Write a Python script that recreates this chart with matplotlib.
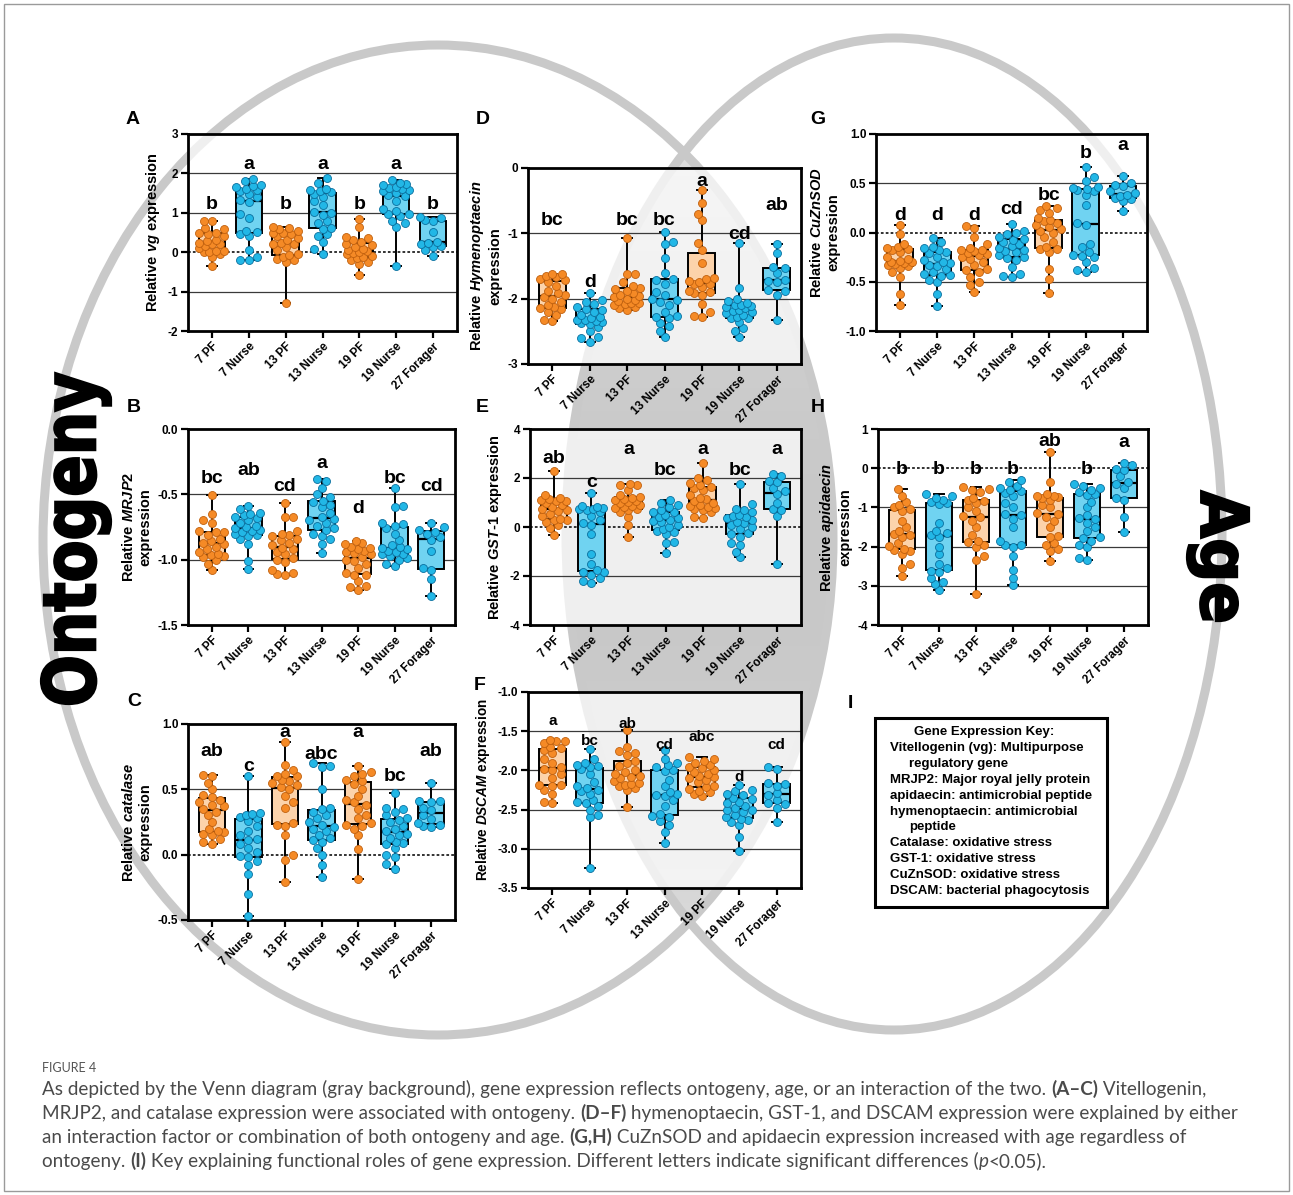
import numpy as np
import matplotlib.pyplot as plt
from matplotlib.patches import Ellipse, Rectangle, PathPatch
from matplotlib.textpath import TextPath
from matplotlib.font_manager import FontProperties
from matplotlib.transforms import Affine2D

plt.rcParams['font.family'] = ['Liberation Sans', 'DejaVu Sans']
plt.rcParams['font.weight'] = 'bold'
plt.rcParams['axes.unicode_minus'] = False
plt.rcParams['mathtext.fontset'] = 'custom'
plt.rcParams['mathtext.it'] = 'Liberation Sans:bold:italic'
plt.rcParams['mathtext.rm'] = 'Liberation Sans:bold'
plt.rcParams['mathtext.bf'] = 'Liberation Sans:bold'

W, H = 1293, 1195

groups = ['7 PF', '7 Nurse', '13 PF', '13 Nurse', '19 PF', '19 Nurse', '27 Forager']
is_pf = [True, False, True, False, True, False, False]

# relative expression values, one list per group
vg = [
    [-0.36, -0.12, -0.05, 0.0, 0.01, 0.02, 0.04, 0.1, 0.15, 0.2, 0.22, 0.24, 0.28, 0.32, 0.4, 0.46, 0.5, 0.5, 0.6, 0.62, 0.78, 0.80],
    [-0.2, -0.19, -0.12, 0.05, 0.4, 0.47, 0.52, 0.55, 0.88, 0.98, 1.28, 1.32, 1.4, 1.48, 1.55, 1.58, 1.6, 1.65, 1.68, 1.7, 1.8, 1.86],
    [-1.28, -0.25, -0.2, -0.18, -0.12, -0.08, -0.05, 0.05, 0.12, 0.2, 0.22, 0.24, 0.3, 0.35, 0.4, 0.45, 0.48, 0.5, 0.55, 0.58, 0.62, 0.65],
    [-0.04, 0.08, 0.25, 0.42, 0.45, 0.6, 0.62, 0.75, 0.8, 0.95, 1.0, 1.02, 1.2, 1.3, 1.4, 1.48, 1.52, 1.55, 1.58, 1.6, 1.75, 1.88],
    [-0.58, -0.3, -0.25, -0.2, -0.15, -0.12, -0.1, -0.05, -0.02, 0.0, 0.03, 0.05, 0.08, 0.12, 0.18, 0.22, 0.25, 0.3, 0.35, 0.38, 0.65, 0.85],
    [-0.34, 0.65, 0.75, 0.8, 0.92, 0.96, 0.98, 1.05, 1.1, 1.3, 1.42, 1.44, 1.5, 1.55, 1.58, 1.6, 1.62, 1.65, 1.7, 1.72, 1.75, 1.82],
    [-0.09, 0.05, 0.13, 0.15, 0.2, 0.23, 0.27, 0.52, 0.78, 0.82, 0.86, 0.89],
]
mrjp2 = [
    [-1.08, -1.03, -1.0, -0.98, -0.97, -0.965, -0.96, -0.94, -0.92, -0.9, -0.88, -0.87, -0.86, -0.84, -0.81, -0.79, -0.79, -0.78, -0.72, -0.7, -0.65, -0.505],
    [-1.07, -1.01, -0.88, -0.84, -0.82, -0.81, -0.805, -0.79, -0.78, -0.77, -0.76, -0.75, -0.74, -0.72, -0.7, -0.68, -0.675, -0.66, -0.65, -0.64, -0.61, -0.59],
    [-1.12, -1.11, -1.1, -1.08, -1.02, -1.0, -0.99, -0.96, -0.94, -0.92, -0.91, -0.89, -0.87, -0.85, -0.84, -0.82, -0.815, -0.8, -0.78, -0.67, -0.67, -0.57],
    [-0.95, -0.88, -0.84, -0.82, -0.8, -0.775, -0.76, -0.74, -0.72, -0.7, -0.69, -0.67, -0.64, -0.6, -0.58, -0.56, -0.55, -0.52, -0.5, -0.45, -0.4, -0.38],
    [-1.23, -1.21, -1.2, -1.16, -1.12, -1.115, -1.1, -1.06, -1.03, -1.01, -1.0, -0.98, -0.96, -0.95, -0.94, -0.93, -0.92, -0.91, -0.9, -0.88, -0.87, -0.86],
    [-1.05, -1.03, -1.0, -0.99, -0.97, -0.96, -0.955, -0.94, -0.93, -0.92, -0.91, -0.905, -0.89, -0.85, -0.8, -0.76, -0.745, -0.73, -0.72, -0.6, -0.59, -0.45],
    [-1.28, -1.15, -1.08, -1.065, -0.93, -0.85, -0.83, -0.8, -0.785, -0.77, -0.75, -0.72],
]
catalase = [
    [0.08, 0.1, 0.12, 0.15, 0.16, 0.17, 0.18, 0.2, 0.25, 0.3, 0.33, 0.35, 0.37, 0.38, 0.4, 0.42, 0.44, 0.46, 0.5, 0.55, 0.6, 0.61],
    [-0.47, -0.3, -0.15, -0.08, -0.05, -0.02, -0.01, 0.02, 0.05, 0.08, 0.11, 0.12, 0.15, 0.18, 0.22, 0.26, 0.28, 0.29, 0.3, 0.31, 0.32, 0.6],
    [-0.21, -0.04, 0.0, 0.15, 0.22, 0.23, 0.24, 0.36, 0.4, 0.45, 0.5, 0.52, 0.53, 0.55, 0.56, 0.57, 0.6, 0.6, 0.62, 0.65, 0.69, 0.86],
    [-0.17, -0.08, 0.0, 0.05, 0.1, 0.11, 0.13, 0.15, 0.18, 0.2, 0.21, 0.23, 0.25, 0.28, 0.3, 0.33, 0.35, 0.36, 0.5, 0.67, 0.68, 0.70],
    [-0.19, 0.04, 0.15, 0.2, 0.22, 0.23, 0.24, 0.28, 0.3, 0.35, 0.38, 0.4, 0.42, 0.45, 0.5, 0.54, 0.56, 0.57, 0.6, 0.62, 0.63, 0.68],
    [-0.11, -0.07, -0.02, 0.0, 0.05, 0.08, 0.09, 0.1, 0.13, 0.15, 0.16, 0.18, 0.2, 0.22, 0.25, 0.265, 0.28, 0.3, 0.33, 0.35, 0.36, 0.47],
    [0.21, 0.22, 0.23, 0.24, 0.27, 0.3, 0.34, 0.36, 0.4, 0.41, 0.41, 0.55],
]
hymenoptaecin = [
    [-2.34, -2.32, -2.25, -2.2, -2.16, -2.14, -2.13, -2.1, -2.05, -2.0, -1.97, -1.95, -1.92, -1.88, -1.8, -1.74, -1.72, -1.7, -1.67, -1.65, -1.63, -1.62],
    [-2.66, -2.6, -2.58, -2.5, -2.44, -2.385, -2.375, -2.36, -2.34, -2.33, -2.32, -2.3, -2.28, -2.25, -2.2, -2.17, -2.16, -2.12, -2.08, -2.05, -2.02, -1.91],
    [-2.17, -2.15, -2.13, -2.1, -2.08, -2.07, -2.065, -2.04, -2.02, -2.0, -1.98, -1.96, -1.94, -1.92, -1.88, -1.85, -1.83, -1.8, -1.75, -1.62, -1.62, -1.07],
    [-2.59, -2.5, -2.42, -2.38, -2.3, -2.28, -2.26, -2.2, -2.1, -2.05, -2.02, -2.0, -1.95, -1.9, -1.78, -1.72, -1.7, -1.6, -1.38, -1.16, -1.14, -0.98],
    [-2.28, -2.27, -2.2, -2.08, -1.95, -1.92, -1.9, -1.88, -1.82, -1.78, -1.77, -1.75, -1.73, -1.7, -1.68, -1.45, -1.25, -1.15, -0.8, -0.7, -0.53, -0.34],
    [-2.59, -2.5, -2.45, -2.35, -2.3, -2.29, -2.285, -2.25, -2.22, -2.2, -2.19, -2.17, -2.15, -2.13, -2.11, -2.1, -2.09, -2.06, -2.04, -2.0, -1.84, -1.15],
    [-2.33, -1.94, -1.88, -1.865, -1.75, -1.73, -1.71, -1.6, -1.53, -1.51, -1.3, -1.17],
]
gst1 = [
    [-0.33, -0.05, 0.1, 0.2, 0.28, 0.3, 0.33, 0.45, 0.55, 0.65, 0.7, 0.74, 0.8, 0.9, 1.0, 1.05, 1.08, 1.1, 1.15, 1.2, 1.3, 2.29],
    [-2.27, -2.2, -2.1, -1.95, -1.85, -1.82, -1.75, -1.5, -1.1, -0.3, 0.1, 0.18, 0.3, 0.45, 0.6, 0.68, 0.72, 0.75, 0.78, 0.8, 0.85, 1.4],
    [-0.4, 0.1, 0.4, 0.6, 0.7, 0.74, 0.76, 0.8, 0.85, 0.9, 0.97, 1.01, 1.05, 1.1, 1.15, 1.2, 1.24, 1.3, 1.5, 1.7, 1.72, 1.74],
    [-1.08, -0.65, -0.6, -0.3, -0.2, -0.15, -0.1, 0.0, 0.1, 0.2, 0.25, 0.29, 0.35, 0.4, 0.5, 0.6, 0.62, 0.7, 0.8, 0.9, 1.0, 1.09],
    [0.38, 0.42, 0.6, 0.7, 0.75, 0.78, 0.8, 0.85, 0.9, 1.0, 1.05, 1.13, 1.2, 1.3, 1.5, 1.6, 1.65, 1.7, 1.8, 1.9, 2.0, 2.6],
    [-1.23, -1.0, -0.75, -0.65, -0.4, -0.28, -0.25, -0.1, 0.0, 0.1, 0.15, 0.21, 0.3, 0.35, 0.4, 0.44, 0.48, 0.6, 0.7, 0.75, 0.92, 1.74],
    [-1.53, 0.45, 0.7, 0.73, 1.0, 1.35, 1.45, 1.6, 1.84, 1.88, 2.1, 2.18],
]
dscam = [
    [-2.42, -2.4, -2.3, -2.25, -2.2, -2.19, -2.18, -2.1, -2.05, -2.0, -1.98, -1.96, -1.9, -1.85, -1.78, -1.74, -1.72, -1.7, -1.65, -1.63, -1.62, -1.61],
    [-3.24, -2.6, -2.57, -2.5, -2.45, -2.415, -2.4, -2.38, -2.3, -2.26, -2.25, -2.23, -2.2, -2.15, -2.05, -1.98, -1.96, -1.95, -1.93, -1.9, -1.85, -1.73],
    [-2.47, -2.25, -2.22, -2.2, -2.18, -2.17, -2.165, -2.14, -2.1, -2.08, -2.07, -2.05, -2.02, -2.0, -1.95, -1.9, -1.88, -1.8, -1.78, -1.75, -1.7, -1.49],
    [-2.93, -2.78, -2.7, -2.65, -2.6, -2.58, -2.55, -2.45, -2.38, -2.33, -2.32, -2.3, -2.27, -2.2, -2.12, -2.01, -1.99, -1.96, -1.93, -1.9, -1.85, -1.74],
    [-2.33, -2.3, -2.28, -2.26, -2.24, -2.215, -2.2, -2.15, -2.12, -2.1, -2.09, -2.07, -2.05, -2.02, -2.0, -1.97, -1.955, -1.93, -1.9, -1.88, -1.85, -1.83],
    [-3.03, -2.85, -2.7, -2.66, -2.63, -2.615, -2.6, -2.57, -2.53, -2.51, -2.5, -2.48, -2.45, -2.42, -2.4, -2.37, -2.35, -2.32, -2.3, -2.26, -2.25, -2.18],
    [-2.66, -2.48, -2.43, -2.415, -2.38, -2.31, -2.29, -2.2, -2.175, -2.16, -1.98, -1.96],
]
cuznsod = [
    [-0.74, -0.62, -0.45, -0.4, -0.36, -0.345, -0.335, -0.32, -0.31, -0.3, -0.295, -0.285, -0.27, -0.25, -0.2, -0.175, -0.165, -0.16, -0.15, -0.12, -0.02, 0.08],
    [-0.75, -0.62, -0.5, -0.48, -0.44, -0.435, -0.425, -0.4, -0.37, -0.34, -0.33, -0.31, -0.3, -0.28, -0.25, -0.21, -0.2, -0.18, -0.16, -0.15, -0.1, -0.06],
    [-0.6, -0.53, -0.5, -0.45, -0.4, -0.385, -0.37, -0.33, -0.3, -0.27, -0.25, -0.23, -0.22, -0.21, -0.19, -0.182, -0.175, -0.16, -0.12, -0.05, 0.05, 0.07],
    [-0.45, -0.44, -0.42, -0.35, -0.28, -0.255, -0.245, -0.23, -0.2, -0.19, -0.18, -0.16, -0.14, -0.12, -0.1, -0.075, -0.065, -0.05, -0.02, 0.0, 0.02, 0.09],
    [-0.61, -0.47, -0.37, -0.2, -0.17, -0.165, -0.15, -0.1, -0.05, 0.0, 0.02, 0.04, 0.06, 0.08, 0.1, 0.115, 0.125, 0.15, 0.2, 0.23, 0.25, 0.27],
    [-0.4, -0.38, -0.36, -0.3, -0.25, -0.235, -0.225, -0.2, -0.15, -0.12, 0.08, 0.1, 0.28, 0.38, 0.42, 0.435, 0.445, 0.45, 0.46, 0.52, 0.56, 0.67],
    [0.22, 0.32, 0.345, 0.355, 0.37, 0.38, 0.4, 0.42, 0.47, 0.48, 0.5, 0.57],
]
apidaecin = [
    [-2.75, -2.55, -2.45, -2.2, -2.1, -2.08, -2.05, -1.98, -1.9, -1.75, -1.7, -1.68, -1.6, -1.5, -1.35, -1.1, -1.05, -1.0, -0.95, -0.85, -0.7, -0.54],
    [-3.11, -2.95, -2.9, -2.8, -2.65, -2.62, -2.55, -2.45, -2.2, -2.0, -1.75, -1.71, -1.65, -1.6, -1.4, -0.92, -0.88, -0.85, -0.82, -0.75, -0.7, -0.66],
    [-3.22, -2.35, -2.25, -2.0, -1.95, -1.88, -1.85, -1.7, -1.5, -1.35, -1.25, -1.23, -1.1, -1.0, -0.9, -0.83, -0.8, -0.75, -0.6, -0.55, -0.52, -0.48],
    [-2.98, -2.8, -2.6, -2.25, -2.0, -1.97, -1.95, -1.85, -1.5, -1.3, -1.2, -1.18, -1.0, -0.9, -0.7, -0.62, -0.57, -0.55, -0.5, -0.45, -0.35, -0.31],
    [-2.37, -2.1, -2.05, -1.95, -1.9, -1.75, -1.72, -1.5, -1.35, -1.25, -1.18, -1.14, -1.0, -0.95, -0.8, -0.77, -0.74, -0.72, -0.7, -0.65, -0.35, 0.42],
    [-2.35, -2.3, -2.0, -1.95, -1.85, -1.78, -1.75, -1.6, -1.5, -1.4, -1.3, -1.28, -1.2, -1.0, -0.85, -0.68, -0.65, -0.6, -0.55, -0.5, -0.45, -0.41],
    [-1.64, -1.25, -0.8, -0.76, -0.5, -0.4, -0.34, -0.2, -0.05, -0.02, 0.08, 0.14],
]

# significance letters and where they sit (data units)
vg_sig = ['b', 'a', 'b', 'a', 'b', 'a', 'b']
vg_sig_y = [1.22, 2.22, 1.22, 2.22, 1.22, 2.22, 1.22]
mrjp2_sig = ['bc', 'ab', 'cd', 'a', 'd', 'bc', 'cd']
mrjp2_sig_y = [-0.38, -0.32, -0.44, -0.263, -0.607, -0.38, -0.44]
catalase_sig = ['ab', 'c', 'a', 'abc', 'a', 'bc', 'ab']
catalase_sig_y = [0.79, 0.677, 0.937, 0.77, 0.937, 0.60, 0.79]
hym_sig = ['bc', 'd', 'bc', 'bc', 'a', 'cd', 'ab']
hym_sig_y = [-0.80, -1.745, -0.80, -0.80, -0.20, -1.02, -0.58]
gst1_sig = ['ab', 'c', 'a', 'bc', 'a', 'bc', 'a']
gst1_sig_y = [2.79, 1.81, 3.16, 2.32, 3.16, 2.32, 3.16]
dscam_sig = ['a', 'bc', 'ab', 'cd', 'abc', 'd', 'cd']
dscam_sig_y = [-1.374, -1.62, -1.41, -1.67, -1.575, -2.09, -1.67]
sod_sig = ['d', 'd', 'd', 'cd', 'bc', 'b', 'a']
sod_sig_y = [0.17, 0.17, 0.17, 0.23, 0.376, 0.80, 0.885]
api_sig = ['b', 'b', 'b', 'b', 'ab', 'b', 'a']
api_sig_y = [-0.03, -0.03, -0.03, -0.03, 0.68, -0.03, 0.66]

key_lines = [
    ('Gene Expression Key:', 914),
    ('Vitellogenin (vg): Multipurpose', 890),
    ('regulatory gene', 909),
    ('MRJP2: Major royal jelly protein', 890),
    ('apidaecin: antimicrobial peptide', 890),
    ('hymenoptaecin: antimicrobial', 890),
    ('peptide', 909),
    ('Catalase: oxidative stress', 890),
    ('GST-1: oxidative stress', 890),
    ('CuZnSOD: oxidative stress', 890),
    ('DSCAM: bacterial phagocytosis', 890),
]

ORANGE, ORANGE_EDGE, ORANGE_BOX = '#f58a26', '#c0600e', '#fcd3ab'
BLUE, BLUE_EDGE, BLUE_BOX = '#22b7e6', '#0a6f9e', '#70d3f1'

fig = plt.figure(figsize=(W / 100, H / 100), dpi=100)
bg = fig.add_axes([0, 0, 1, 1], zorder=-10)


def Y(y):
    return H - y


# venn: shaded lens where the two ellipses overlap
xx, yy = np.meshgrid(np.arange(W) + 0.5, np.arange(H) + 0.5)
inL = ((xx - 438) / 395) ** 2 + ((yy - 540) / 495) ** 2 <= 1
inR = ((xx - 894) / 328) ** 2 + ((yy - 534) / 496) ** 2 <= 1
shade = np.clip(200 + 30 * ((yy - 560) / 470) ** 2, 0, 250) / 255
img = np.ones((H, W, 4))
img[..., 0] = shade
img[..., 1] = shade
img[..., 2] = shade
img[..., 3] = (inL & inR).astype(float)
bg.imshow(img, extent=(0, W, 0, H), origin='upper', interpolation='bilinear', zorder=0)
bg.add_patch(Ellipse((438, Y(540)), 790, 990, fill=False, ec='#c9c9c9', lw=6.5, zorder=1))
bg.add_patch(Ellipse((894, Y(534)), 656, 992, fill=False, ec='#c9c9c9', lw=6.5, zorder=1))
bg.add_patch(Rectangle((4, Y(1191)), 1285, 1187, fill=False, ec='#9a9a9a', lw=1.0, zorder=1))
bg.set_aspect('auto')
bg.set_xlim(0, W)
bg.set_ylim(0, H)
bg.axis('off')


def big_word(word, x0, x1, y0, y1, rot):
    tp = TextPath((0, 0), word, size=100, prop=FontProperties(family='DejaVu Sans', weight='bold'))
    ext = tp.get_extents()
    L, T = y1 - y0, x1 - x0
    tr = Affine2D().translate(-ext.x0, -ext.y0).scale(L / ext.width, T / ext.height)
    if rot == 90:
        tr = tr.rotate_deg(90).translate(x1, Y(y1))
    else:
        tr = tr.rotate_deg(-90).translate(x0, Y(y0))
    bg.add_patch(PathPatch(tr.transform_path(tp), fc='black', ec='black', lw=1.6, zorder=2))


big_word('Ontogeny', 41, 111, 373, 704, 90)
big_word('Age', 1187, 1249, 491, 621, 270)


def swarm(vals, ppx, ppy, diam=7.6, maxhalf=13.0):
    vals = np.asarray(vals, float)
    order = np.argsort(vals)
    placed = []
    offs = np.zeros(len(vals))
    step = diam * 0.55
    flip = 1
    for i in order:
        y = vals[i] * ppy
        best = None
        for k in range(0, 12):
            for sgn in ([1] if k == 0 else [flip, -flip]):
                x = sgn * k * step
                if abs(x) > maxhalf:
                    continue
                if all((x - px) ** 2 + (y - py) ** 2 >= (diam * 0.92) ** 2 for px, py in placed):
                    best = x
                    break
            if best is not None:
                break
        if best is None:
            cands = np.arange(-maxhalf, maxhalf + 0.01, step / 2)
            dmin = [min((c - px) ** 2 + (y - py) ** 2 for px, py in placed) for c in cands]
            best = cands[int(np.argmax(dmin))]
        flip = -flip
        placed.append((best, y))
        offs[i] = best
    return offs / ppx


def panel(data, frame, ylim, yticks, fmt, ylabel, sig, sig_y, sig_size, tag, tag_xy, label_size=10.5):
    x0, x1, y0, y1 = frame
    ax = fig.add_axes([x0 / W, 1 - y1 / H, (x1 - x0) / W, (y1 - y0) / H])
    ax.set_facecolor((1, 1, 1, 0.72))
    xlim = (-0.65, 6.65)
    ax.set_xlim(*xlim)
    ax.set_ylim(*ylim)
    ppx = (x1 - x0) / (xlim[1] - xlim[0])
    ppy = (y1 - y0) / (ylim[1] - ylim[0])
    for t in yticks:
        if ylim[0] < t < ylim[1]:
            if t == 0:
                ax.axhline(0, color='#222222', lw=1.3, ls=(0, (1.5, 1.2)), zorder=1)
            else:
                ax.axhline(t, color='#3a3a3a', lw=0.9, zorder=1)
    bp = ax.boxplot(data, positions=range(7), widths=0.72, whis=(0, 100), patch_artist=True,
                    showfliers=False, capwidths=0.26,
                    medianprops=dict(color='black', lw=1.6),
                    boxprops=dict(lw=1.4, edgecolor='black'),
                    whiskerprops=dict(lw=1.4, color='black'),
                    capprops=dict(lw=1.4, color='black'), zorder=2)
    for patch, pf in zip(bp['boxes'], is_pf):
        patch.set_facecolor(ORANGE_BOX if pf else BLUE_BOX)
    for i, vals in enumerate(data):
        offs = swarm(vals, ppx, ppy)
        ax.scatter(i + offs, vals, s=33, c=ORANGE if is_pf[i] else BLUE,
                   edgecolors=ORANGE_EDGE if is_pf[i] else BLUE_EDGE, linewidths=0.6, zorder=3)
    for i, (s, yv) in enumerate(zip(sig, sig_y)):
        ax.text(i, yv, s, ha='center', va='center', fontsize=sig_size, fontweight='bold', zorder=4)
    ax.set_yticks(yticks)
    ax.set_yticklabels([fmt.format(t) for t in yticks], fontsize=8.5, fontweight='bold')
    ax.set_xticks(range(7))
    ax.set_xticklabels(groups, rotation=45, ha='right', rotation_mode='anchor',
                       fontsize=8.5, fontweight='bold')
    ax.tick_params(width=1.6, length=5, pad=2)
    for sp in ax.spines.values():
        sp.set_linewidth(2.0)
    ax.set_ylabel(ylabel, fontsize=label_size, fontweight='bold', labelpad=4)
    bg.text(tag_xy[0], Y(tag_xy[1]), tag, fontsize=14, fontweight='bold', ha='center', va='center', zorder=5)
    return ax


panel(vg, (188, 457, 134, 331), (-2, 3), [-2, -1, 0, 1, 2, 3], '{:.0f}',
      r'Relative $vg$ expression', vg_sig, vg_sig_y, 14, 'A', (133, 119))
panel(mrjp2, (188, 455, 429, 625), (-1.5, 0.0), [-1.5, -1.0, -0.5, 0.0], '{:.1f}',
      'Relative $MRJP2$\nexpression', mrjp2_sig, mrjp2_sig_y, 14, 'B', (134, 407))
panel(catalase, (188, 455, 724, 920), (-0.5, 1.0), [-0.5, 0.0, 0.5, 1.0], '{:.1f}',
      'Relative $catalase$\nexpression', catalase_sig, catalase_sig_y, 14, 'C', (134, 702))
panel(hymenoptaecin, (528, 801, 168, 364), (-3, 0), [-3, -2, -1, 0], '{:.0f}',
      'Relative $Hymenoptaecin$\nexpression', hym_sig, hym_sig_y, 14, 'D', (483, 119))
panel(gst1, (530, 801, 429, 625), (-4, 4), [-4, -2, 0, 2, 4], '{:.0f}',
      r'Relative $GST$-$\mathit{1}$ expression', gst1_sig, gst1_sig_y, 14, 'E', (482, 407))
panel(dscam, (528, 801, 692, 888), (-3.5, -1.0), [-3.5, -3.0, -2.5, -2.0, -1.5, -1.0], '{:.1f}',
      'Relative $DSCAM$ expression', dscam_sig, dscam_sig_y, 11, 'F', (480, 686), label_size=9.8)
panel(cuznsod, (876, 1147, 134, 331), (-1.0, 1.0), [-1.0, -0.5, 0.0, 0.5, 1.0], '{:.1f}',
      'Relative $CuZnSOD$\nexpression', sod_sig, sod_sig_y, 14, 'G', (818, 119))
panel(apidaecin, (878, 1148, 429, 625), (-4, 1), [-4, -3, -2, -1, 0, 1], '{:.0f}',
      'Relative $apidaecin$\nexpression', api_sig, api_sig_y, 14, 'H', (818, 407))

# gene key (panel I)
bg.text(850, Y(703), 'I', fontsize=14, fontweight='bold', ha='center', va='center', zorder=5)
bg.add_patch(Rectangle((875, Y(907)), 232, 189, fc='white', ec='black', lw=2.2, zorder=3))
for j, (line, lx) in enumerate(key_lines):
    bg.text(lx, Y(732 + 15.9 * j), line, fontsize=9.5, fontweight='bold', ha='left', va='center', zorder=4)

# caption
r = fig.canvas.get_renderer()
cap_color = '#4a4a4a'
cap_font = ['Lato', 'Open Sans', 'DejaVu Sans']


def text_w(s, **kw):
    t = bg.text(0, 0, '|' + s + '|', **kw)
    w = t.get_window_extent(renderer=r).width
    t.remove()
    t2 = bg.text(0, 0, '||', **kw)
    w2 = t2.get_window_extent(renderer=r).width
    t2.remove()
    return w - w2


def style(kind, size):
    kw = dict(fontsize=size, family=cap_font, color=cap_color, fontweight='normal')
    if kind == 'b':
        kw['fontweight'] = 'bold'
    if kind == 'i':
        kw['style'] = 'italic'
    return kw


cap_lines = [
    [('As depicted by the Venn diagram (gray background), gene expression reflects ontogeny, age, or an interaction of the two. ', 'n'),
     ('(A\u2013C)', 'b'), (' Vitellogenin,', 'n')],
    [('MRJP2, and catalase expression were associated with ontogeny. ', 'n'), ('(D\u2013F)', 'b'),
     (' hymenoptaecin, GST-1, and DSCAM expression were explained by either', 'n')],
    [('an interaction factor or combination of both ontogeny and age. ', 'n'), ('(G,H)', 'b'),
     (' CuZnSOD and apidaecin expression increased with age regardless of', 'n')],
    [('ontogeny. ', 'n'), ('(I)', 'b'),
     (' Key explaining functional roles of gene expression. Different letters indicate significant differences (', 'n'),
     ('p', 'i'), ('<0.05).', 'n')],
]
widest = max(sum(text_w(s, **style(k, 10)) for s, k in parts) for parts in cap_lines[:2])
cap_size = 10 * 1191 / widest
for j, parts in enumerate(cap_lines):
    x = 42
    for s, k in parts:
        kw = style(k, cap_size)
        bg.text(x, Y(1095 + 24 * j), s, ha='left', va='baseline', zorder=5, **kw)
        x += text_w(s, **kw)
bg.text(42, Y(1072), 'FIGURE 4', fontsize=9, family=cap_font, color='#555555',
        fontweight='normal', ha='left', va='baseline', zorder=5)

fig.savefig('out.png', dpi=100)
